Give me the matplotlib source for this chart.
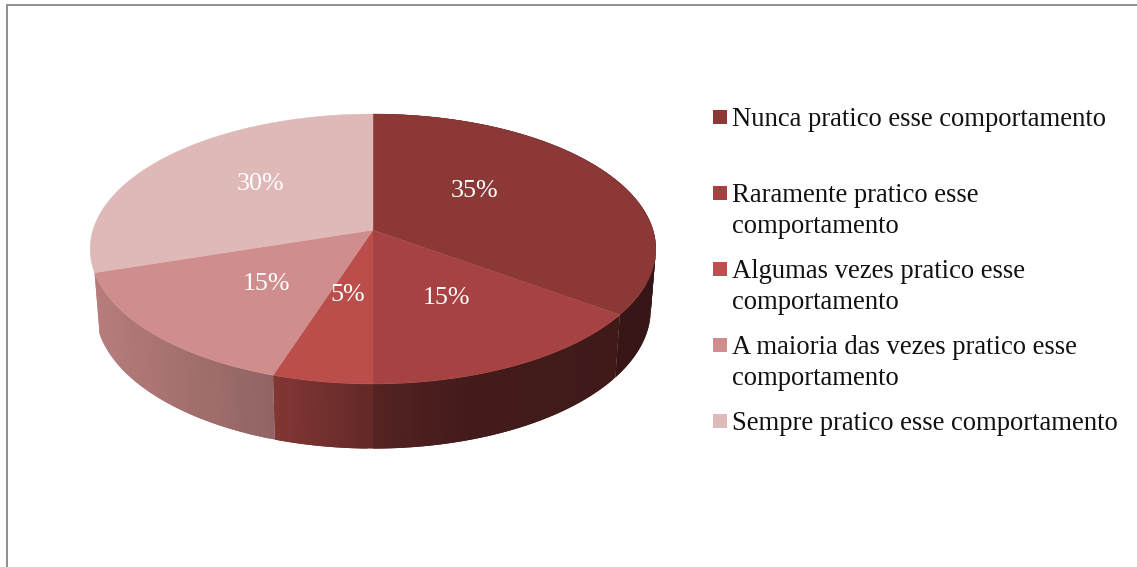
import numpy as np
import matplotlib
matplotlib.use("Agg")
import matplotlib.pyplot as plt
from matplotlib.collections import PolyCollection
from matplotlib.colors import to_rgb
from matplotlib.patches import Rectangle
from matplotlib.path import Path
from matplotlib.transforms import Affine2D, Transform

plt.rcParams['font.family'] = ['Liberation Serif', 'DejaVu Serif']

# data
values = [35, 15, 5, 15, 30]
pct_labels = ['35%', '15%', '5%', '15%', '30%']
legend_labels = [
    'Nunca pratico esse comportamento',
    'Raramente pratico esse\ncomportamento',
    'Algumas vezes pratico esse\ncomportamento',
    'A maioria das vezes pratico esse\ncomportamento',
    'Sempre pratico esse comportamento',
]
top_colors = ['#8c3836', '#a64342', '#bb4e4b', '#cf8e8d', '#dfb8b8']
legend_colors = ['#8c3836', '#a64342', '#bf4f4d', '#cf8e8d', '#e0b9b9']

# geometry of the tilted disc, in pixels
CX, CY = 373, 230
RX, RY, PERSP = 280.0, 132.3, 0.1407
DEPTH, BOTTOM_X, BOTTOM_Y = 60.0, 0.982, 1.03

pct_pos = [(474.5, 197), (446, 304), (347.5, 301), (266.5, 290), (261, 190)]
legend_y = [110, 186, 262, 338, 414]


class TiltTransform(Transform):
    """Maps the unit circle of ax.pie onto the perspective top face."""
    input_dims = 2
    output_dims = 2

    def transform_non_affine(self, values):
        x, y = values[:, 0], values[:, 1]
        w = 1 + PERSP * y
        return np.column_stack([CX + RX * x / w, CY - RY * y / w])

    def transform_path_non_affine(self, path):
        # to_polygons flattens curves in pixel units, so blow the unit circle up first
        big = path.transformed(Affine2D().scale(2000))
        poly = big.to_polygons(closed_only=True)[0] / 2000
        return Path(self.transform_non_affine(poly), closed=True)


tilt = TiltTransform()


def side_shade(x):
    # light falls from the left, the wall gets darker to the right
    return np.interp(x, [93, 273, 373, 470, 660], [0.88, 0.70, 0.52, 0.40, 0.38])


def main():
    fig = plt.figure(figsize=(11.37, 5.67), dpi=100)
    ax = fig.add_axes([0, 0, 1, 1])

    wedges, _ = ax.pie(values, colors=top_colors, startangle=90, counterclock=False)
    ax.set_aspect('auto')
    ax.set_xlim(0, 1137)
    ax.set_ylim(567, 0)
    ax.axis('off')
    for w, col in zip(wedges, top_colors):
        w.set_transform(tilt + ax.transData)
        w.set_edgecolor(col)
        w.set_linewidth(0.3)

    # side wall: thin strips shaded along x, each one overlaps the next so no seams show
    # the last slice sits at the back, its wall does not show in the original
    polys, cols = [], []
    for w, col in zip(wedges[:-1], top_colors[:-1]):
        rgb = np.array(to_rgb(col))
        th = np.radians(np.arange(w.theta2, w.theta1 - 0.5, -1.0))
        th[-1] = np.radians(w.theta1)
        top = tilt.transform_non_affine(np.column_stack([np.cos(th), np.sin(th)]))
        bot = np.column_stack([CX + BOTTOM_X * (top[:, 0] - CX),
                               CY + DEPTH + BOTTOM_Y * (top[:, 1] - CY)])
        for i in range(len(th) - 1):
            end = min(i + 2, len(th) - 1)
            polys.append(np.vstack([top[i:end + 1], bot[i:end + 1][::-1]]))
            cols.append(rgb * side_shade(top[i:i + 2, 0].mean()))
    ax.add_collection(PolyCollection(polys, facecolors=cols, edgecolors='none',
                                     linewidths=0, zorder=0.5))

    for lab, (x, y) in zip(pct_labels, pct_pos):
        ax.text(x, y, lab, color='white', fontsize=18.7, ha='center', va='baseline')

    # legend, spaced by hand like the original
    for lab, col, y in zip(legend_labels, legend_colors, legend_y):
        ax.add_patch(Rectangle((713, y), 14, 14, facecolor=col, edgecolor='none'))
        for j, part in enumerate(lab.split('\n')):
            ax.text(732, y + 16 + 31 * j, part, fontsize=19.2, color='#111111',
                    ha='left', va='baseline')

    # grey frame of the chart, cut by the image on right and bottom
    ax.plot([6.5, 6.5, 1137], [567, 4.5, 4.5], color='#8f8f8f', lw=1.4,
            solid_joinstyle='miter', zorder=3)

    fig.savefig('out.png', dpi=100)


if __name__ == "__main__":
    main()
